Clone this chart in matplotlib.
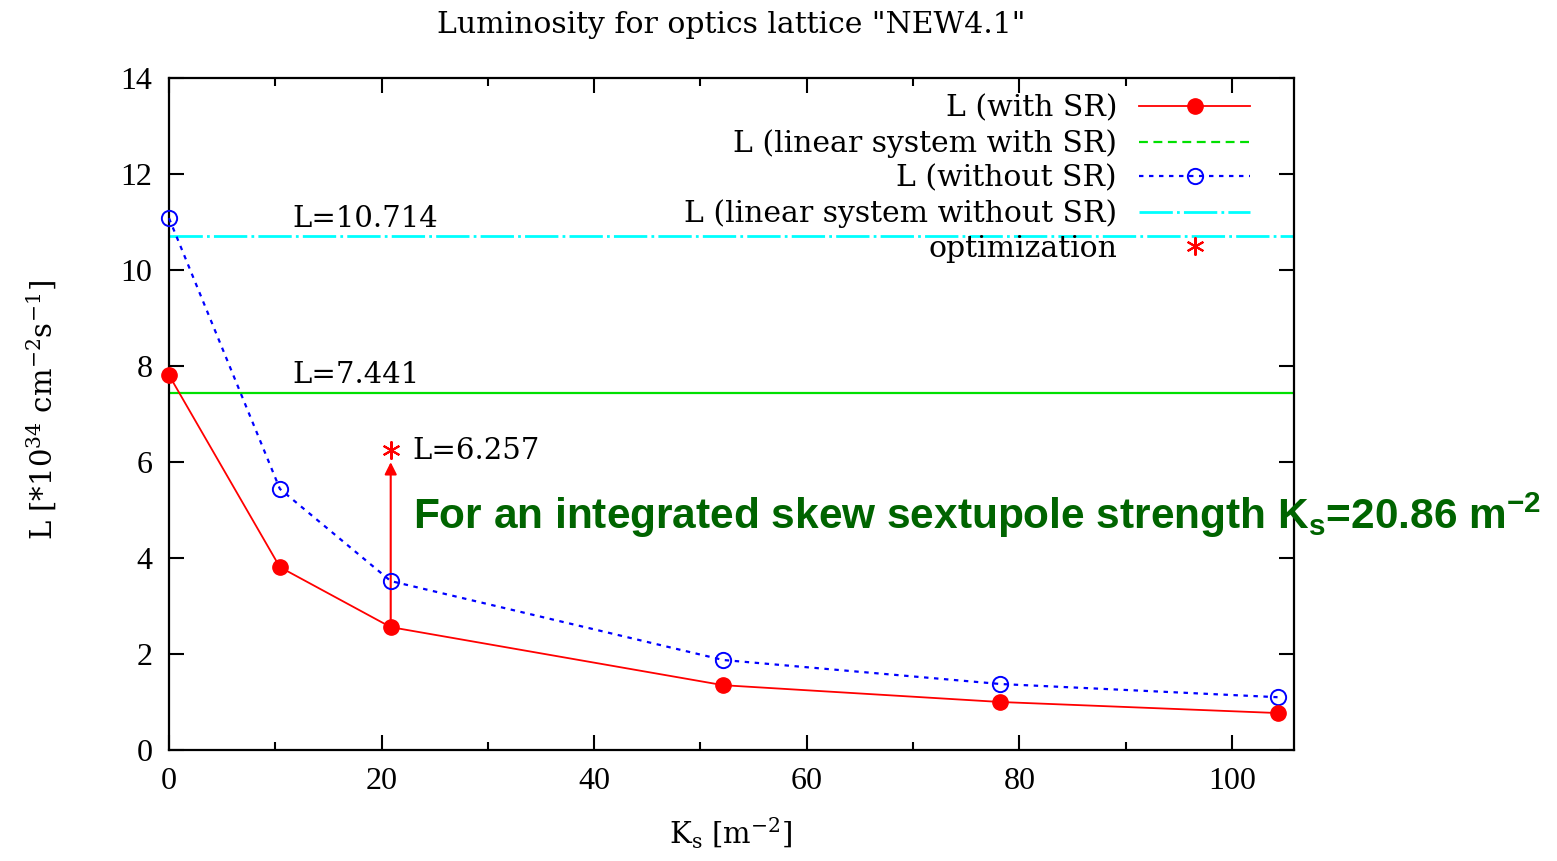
import matplotlib
matplotlib.use("Agg")
import matplotlib.pyplot as plt
from matplotlib.lines import Line2D

# skew sextupole strength and luminosity values
ks = [0, 10.43, 20.86, 52.15, 78.22, 104.3]
lum_sr = [7.81, 3.81, 2.56, 1.35, 1.00, 0.77]
lum_nosr = [11.08, 5.44, 3.52, 1.875, 1.375, 1.10]
lin_sr = 7.441
lin_nosr = 10.714
opt_ks = 20.86
opt_lum = 6.257

serif = ["DejaVu Serif"]
narrow_serif = ["Liberation Serif", "DejaVu Serif"]
plt.rcParams["font.family"] = serif

fig = plt.figure(figsize=(15.57, 8.61), dpi=100)
ax = fig.add_axes([169 / 1557, 1 - 750 / 861, 1124.5 / 1557, 672 / 861])

ax.plot(ks, lum_sr, color="red", lw=1.3, marker="o", ms=11, mfc="red", mec="red",
        clip_on=False, zorder=5)
ax.axhline(lin_sr, color="#00e000", lw=1.6, zorder=2)
ax.plot(ks, lum_nosr, color="blue", lw=1.6, ls=(0, (2, 2.5)), marker="o", ms=11,
        mfc="none", mec="blue", mew=1.4, clip_on=False, zorder=4)
ax.axhline(lin_nosr, color="cyan", lw=2, ls=(0, (12, 1.5, 1, 1.5)), zorder=2)

# optimized point with arrow from the SR curve
ax.annotate("", xy=(opt_ks, opt_lum), xytext=(opt_ks, lum_sr[2]),
            arrowprops=dict(arrowstyle="-|>", color="red", lw=1.5,
                            mutation_scale=18, shrinkA=0, shrinkB=9))
ax.plot([opt_ks], [opt_lum], ls="none", marker=(6, 2, 0), ms=13, mec="red",
        mew=1.5, zorder=6)

ax.text(11.6, lin_nosr + 0.05, "L=10.714", fontsize=21, va="bottom")
ax.text(11.6, lin_sr + 0.07, "L=7.441", fontsize=21, va="bottom")
ax.text(22.9, opt_lum - 0.03, "L=6.257", fontsize=21, va="center")

ax.text(23.0, 4.88,
        r"For an integrated skew sextupole strength K$_\mathdefault{s}$=20.86 m$^\mathdefault{-2}$",
        family=["Liberation Sans"], weight="bold",
        fontsize=30.5, color="#006400", va="center", clip_on=False, zorder=7)

ax.set_xlim(0, 105.8)
ax.set_ylim(0, 14)
ax.set_xticks([0, 20, 40, 60, 80, 100])
ax.set_xticks([10, 30, 50, 70, 90], minor=True)
ax.set_yticks(range(0, 15, 2))
ax.tick_params(which="both", direction="in", top=True, right=True, width=1.5,
               labelsize=23, pad=12)
ax.tick_params(which="major", length=11)
ax.tick_params(which="minor", length=6)
for lab in ax.get_xticklabels() + ax.get_yticklabels():
    lab.set_family(narrow_serif)
for s in ax.spines.values():
    s.set_linewidth(1.6)

ax.set_xlabel(r"K$_\mathdefault{s}$ [m$^\mathdefault{-2}$]", fontsize=21)
ax.xaxis.set_label_coords(0.5, -0.098)
ax.set_ylabel(r"L [*10$^\mathdefault{34}$ cm$^\mathdefault{-2}$s$^\mathdefault{-1}$]", fontsize=21)
ax.yaxis.set_label_coords(-0.098, 0.506)

fig.text(731 / 1557, 1 - 25 / 861, "Luminosity for optics lattice \"NEW4.1\"",
         fontsize=21.5, ha="center", va="center")

handles = [
    Line2D([], [], color="red", lw=1.3, marker="o", ms=11),
    Line2D([], [], color="#00e000", lw=1.6, ls=(0, (4, 2.5))),
    Line2D([], [], color="blue", lw=1.6, ls=(0, (2, 2.5)), marker="o", ms=11,
           mfc="none", mew=1.4),
    Line2D([], [], color="cyan", lw=2, ls=(0, (12, 1.5, 1, 1.5))),
    Line2D([], [], ls="none", marker=(6, 2, 0), ms=13, mec="red", mew=1.5),
]
labels = ["L (with SR)", "L (linear system with SR)", "L (without SR)",
          "L (linear system without SR)", "optimization"]
ax.legend(handles, labels, loc="upper right", bbox_to_anchor=(0.9613, 0.975),
          frameon=False, markerfirst=False, fontsize=21.5, handlelength=3.7,
          handletextpad=0.75, labelspacing=0.22, borderpad=0, borderaxespad=0)

fig.savefig("out.png", dpi=100)
